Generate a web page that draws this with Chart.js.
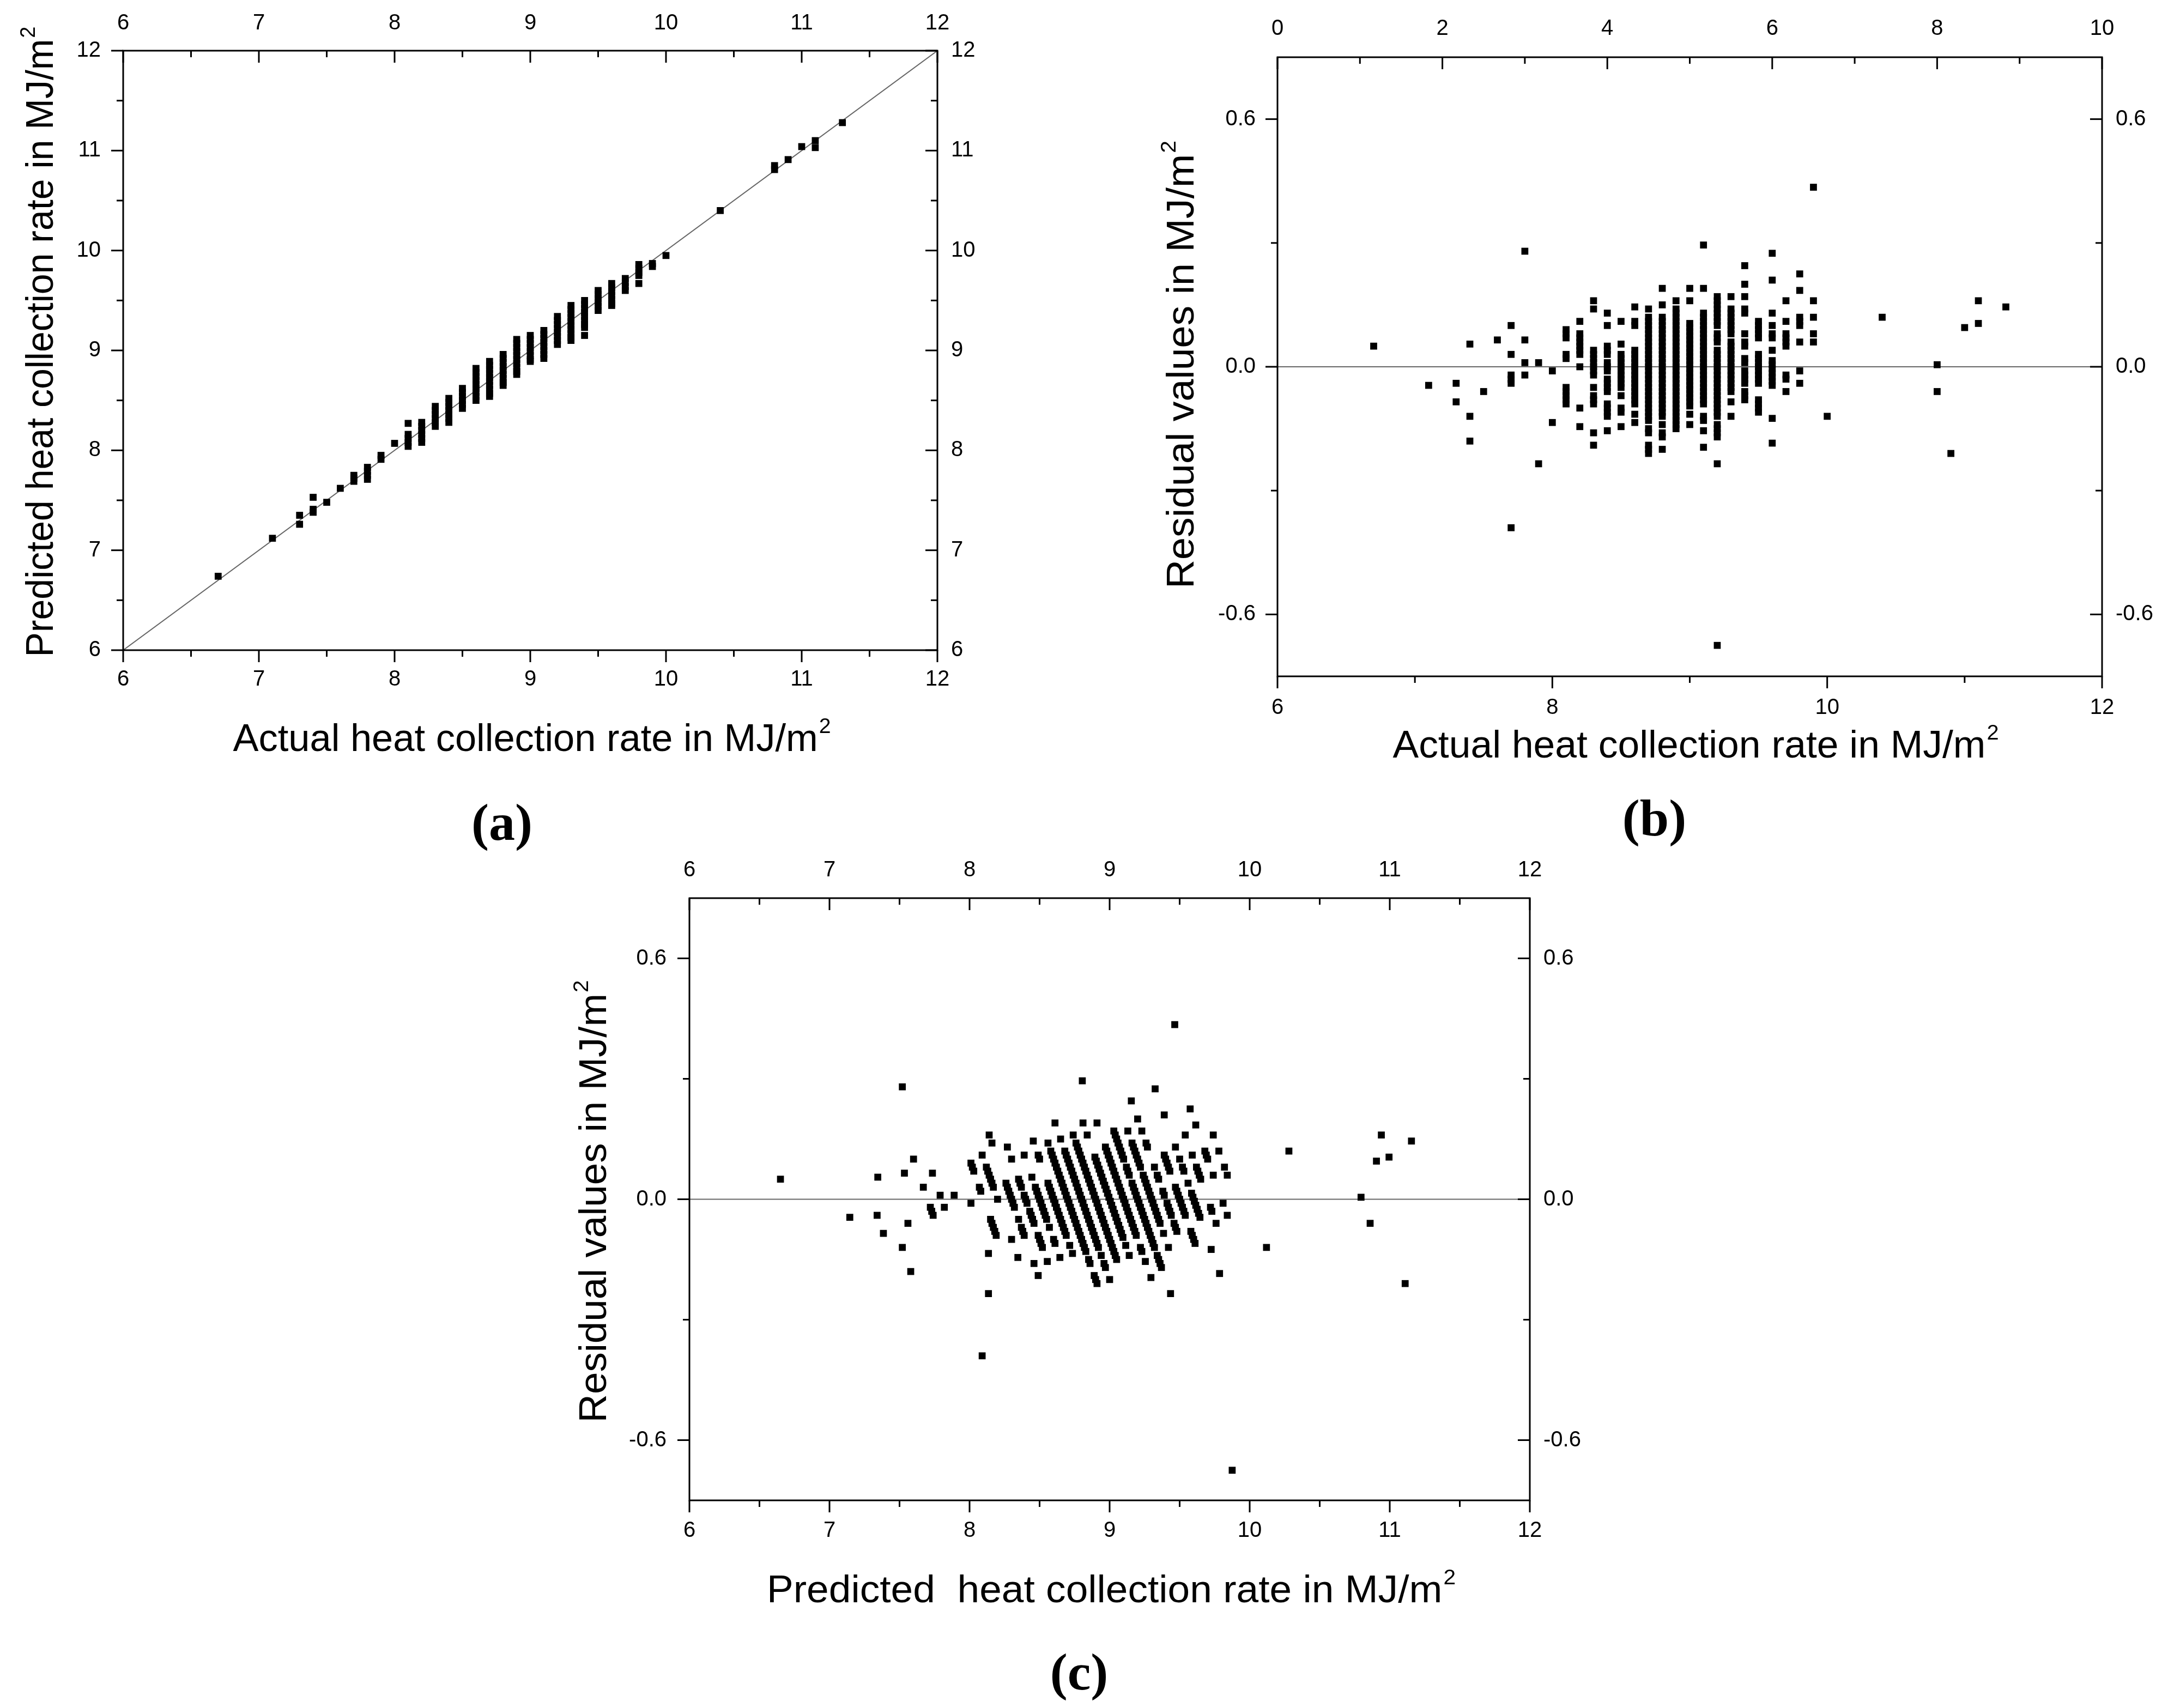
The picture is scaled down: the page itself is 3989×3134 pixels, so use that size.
<!DOCTYPE html>
<html>
<head>
<meta charset="utf-8">
<script src="https://cdn.jsdelivr.net/npm/chart.js@4.4.1/dist/chart.umd.min.js"></script>
<style>
  html, body { margin: 0; padding: 0; background: #fff; }
  body { width: 3989px; height: 3134px; position: relative; overflow: hidden; }
  canvas { position: absolute; }
</style>
</head>
<body>
<canvas id="chartA" width="1950" height="1570" style="left:0;top:0"></canvas>
<canvas id="chartB" width="1989" height="1570" style="left:2000px;top:0"></canvas>
<canvas id="chartC" width="2200" height="1562" style="left:850px;top:1572px"></canvas>
<script>
// ---- data ----
// (a) predicted vs actual, grouped by actual value
var actualA = [6.7, 7.1, 7.3, 7.4, 7.5, 7.6, 7.7, 7.8, 7.9, 8.0, 8.1, 8.2, 8.3, 8.4, 8.5, 8.6, 8.7, 8.8, 8.9, 9.0,
  9.1, 9.2, 9.3, 9.4, 9.5, 9.6, 9.7, 9.8, 9.9, 10.0, 10.4, 10.8, 10.9, 11.0, 11.1, 11.3];
var predictedA = [
  [6.74], [7.12], [7.35, 7.26], [7.53, 7.41, 7.38], [7.48], [7.62],
  [7.75, 7.72, 7.69], [7.83, 7.79, 7.75, 7.71], [7.95, 7.91], [8.07],
  [8.27, 8.16, 8.12, 8.08, 8.04],
  [8.28, 8.24, 8.20, 8.16, 8.12, 8.08],
  [8.44, 8.40, 8.36, 8.32, 8.28, 8.24],
  [8.52, 8.48, 8.44, 8.40, 8.36, 8.32, 8.28],
  [8.62, 8.58, 8.54, 8.50, 8.46, 8.42],
  [8.82, 8.78, 8.74, 8.70, 8.66, 8.62, 8.58, 8.54, 8.50],
  [8.89, 8.85, 8.81, 8.77, 8.73, 8.69, 8.65, 8.61, 8.57, 8.54],
  [8.96, 8.92, 8.88, 8.84, 8.80, 8.76, 8.72, 8.68, 8.65],
  [9.11, 9.07, 9.03, 8.99, 8.95, 8.91, 8.87, 8.83, 8.79, 8.76],
  [9.15, 9.11, 9.07, 9.03, 8.99, 8.95, 8.91, 8.89],
  [9.20, 9.16, 9.12, 9.08, 9.04, 9.00, 8.96, 8.92],
  [9.34, 9.30, 9.26, 9.22, 9.18, 9.14, 9.10, 9.06],
  [9.45, 9.41, 9.37, 9.33, 9.29, 9.25, 9.21, 9.17, 9.13, 9.10],
  [9.50, 9.46, 9.42, 9.38, 9.34, 9.30, 9.26, 9.23, 9.15],
  [9.60, 9.56, 9.52, 9.48, 9.44, 9.40],
  [9.67, 9.63, 9.59, 9.55, 9.51, 9.47, 9.45],
  [9.72, 9.68, 9.64, 9.60],
  [9.86, 9.82, 9.78, 9.75, 9.67],
  [9.87, 9.84], [9.95], [10.40], [10.85, 10.81], [10.91], [11.04], [11.10, 11.03], [11.28]
];

// (b)/(c) residual = actual - predicted, grouped by actual value
var actualCols = [6.7, 7.1, 7.3, 7.4, 7.5, 7.6, 7.7, 7.8, 7.9, 8.0, 8.1, 8.2, 8.3, 8.4, 8.5, 8.6, 8.7, 8.8, 8.9, 9.0,
  9.1, 9.2, 9.3, 9.4, 9.5, 9.6, 9.7, 9.8, 9.9, 10.0, 10.4, 10.8, 10.9, 11.0, 11.1, 11.3];
var residualCols = [
  [0.05], [-0.045], [-0.04, -0.085], [0.055, -0.12, -0.18], [-0.06], [0.065],
  [0.10, 0.03, -0.02, -0.03, -0.04, -0.39],
  [0.28, 0.065, 0.01, -0.02],
  [0.01, -0.235],
  [-0.01, -0.135],
  [0.09, 0.08, 0.07, 0.03, 0.02, -0.05, -0.06, -0.07, -0.08, -0.09],
  [0.11, 0.08, 0.07, 0.06, 0.05, 0.04, 0.03, 0.0, -0.10, -0.145],
  [0.16, 0.14, 0.04, 0.03, 0.02, 0.01, 0.0, -0.01, -0.02, -0.05, -0.07, -0.08, -0.09, -0.16, -0.19],
  [0.13, 0.10, 0.05, 0.04, 0.03, 0.01, 0.0, -0.01, -0.03, -0.04, -0.05, -0.06, -0.09, -0.10, -0.11, -0.12, -0.155],
  [0.11, 0.055, 0.03, 0.02, 0.01, 0.0, -0.01, -0.02, -0.03, -0.04, -0.05, -0.07, -0.10, -0.11, -0.145],
  [0.145, 0.11, 0.10, 0.04, 0.03, 0.02, 0.01, 0.0, -0.01, -0.02, -0.03, -0.04, -0.05, -0.06, -0.07, -0.08, -0.09, -0.115, -0.135],
  [0.14, 0.12, 0.11, 0.10, 0.09, 0.08, 0.07, 0.06, 0.05, 0.04, 0.03, 0.02, 0.01, 0.0, -0.01, -0.02, -0.03, -0.04,
    -0.05, -0.06, -0.07, -0.08, -0.09, -0.10, -0.11, -0.12, -0.13, -0.15, -0.16, -0.19, -0.20, -0.21],
  [0.19, 0.15, 0.12, 0.11, 0.10, 0.09, 0.08, 0.07, 0.06, 0.05, 0.04, 0.03, 0.02, 0.01, 0.0, -0.01, -0.02, -0.03,
    -0.04, -0.05, -0.06, -0.07, -0.08, -0.09, -0.10, -0.11, -0.12, -0.14, -0.16, -0.17, -0.20],
  [0.16, 0.14, 0.13, 0.12, 0.11, 0.10, 0.09, 0.08, 0.07, 0.06, 0.05, 0.04, 0.03, 0.02, 0.01, 0.0, -0.01, -0.02,
    -0.03, -0.04, -0.05, -0.06, -0.07, -0.08, -0.09, -0.10, -0.11, -0.12, -0.13, -0.14, -0.15],
  [0.19, 0.16, 0.105, 0.095, 0.085, 0.075, 0.065, 0.055, 0.045, 0.035, 0.025, 0.015, 0.005, -0.005, -0.015,
    -0.025, -0.035, -0.045, -0.055, -0.065, -0.075, -0.085, -0.095, -0.115, -0.14],
  [0.295, 0.19, 0.13, 0.12, 0.11, 0.10, 0.09, 0.08, 0.07, 0.06, 0.05, 0.04, 0.03, 0.02, 0.01, 0.0, -0.01, -0.02,
    -0.03, -0.04, -0.05, -0.06, -0.07, -0.08, -0.09, -0.12, -0.13, -0.155, -0.195],
  [0.17, 0.16, 0.15, 0.14, 0.13, 0.12, 0.11, 0.10, 0.08, 0.07, 0.06, 0.04, 0.03, 0.02, 0.01, 0.0, -0.01, -0.02,
    -0.03, -0.04, -0.05, -0.06, -0.07, -0.08, -0.09, -0.10, -0.11, -0.12, -0.14, -0.15, -0.16, -0.17, -0.235, -0.675],
  [0.17, 0.14, 0.13, 0.12, 0.11, 0.10, 0.09, 0.08, 0.06, 0.05, 0.04, 0.03, 0.02, 0.01, 0.0, -0.01, -0.02, -0.03,
    -0.04, -0.05, -0.06, -0.085, -0.12],
  [0.245, 0.20, 0.17, 0.14, 0.13, 0.08, 0.06, 0.05, 0.02, 0.01, -0.01, -0.02, -0.03, -0.04, -0.06, -0.07, -0.08],
  [0.11, 0.10, 0.09, 0.08, 0.07, 0.03, 0.02, 0.01, 0.0, -0.01, -0.02, -0.03, -0.04, -0.08, -0.09, -0.10, -0.11],
  [0.275, 0.21, 0.13, 0.10, 0.08, 0.07, 0.04, 0.015, 0.005, -0.005, -0.015, -0.025, -0.035, -0.045, -0.125, -0.185],
  [0.16, 0.11, 0.08, 0.07, 0.06, 0.05, -0.02, -0.03, -0.06],
  [0.225, 0.185, 0.12, 0.11, 0.10, 0.06, -0.01, -0.04],
  [0.435, 0.16, 0.12, 0.08, 0.06],
  [-0.12], [0.12], [0.005, -0.06], [-0.21], [0.095], [0.16, 0.105], [0.145]
];

// tick values
var ticks6to12 = [6, 7, 8, 9, 10, 11, 12];
var minor6to12 = [6.5, 7.5, 8.5, 9.5, 10.5, 11.5];
var ticksBBottom = [6, 8, 10, 12];
var minorBBottom = [7, 9, 11];
var ticksBTop = [0, 2, 4, 6, 8, 10];
var minorBTop = [1, 3, 5, 7, 9];
var ticksResid = [-0.6, 0, 0.6];
var minorResid = [-0.3, 0.3];

// ---- points ----
var pointsA = [];
actualA.forEach(function (a, i) { predictedA[i].forEach(function (p) { pointsA.push({ x: a, y: p }); }); });
var pointsB = [];
var pointsC = [];
actualCols.forEach(function (a, i) {
  residualCols[i].forEach(function (r) {
    pointsB.push({ x: a, y: r });
    pointsC.push({ x: +(a - r).toFixed(3), y: r });   // predicted = actual - residual
  });
});

// frame + Origin style ticks (bottom/left outward, top/right inward)
var frameTicks = {
  id: 'frameTicks',
  afterDatasetsDraw: function (chart, args, opts) {
    var ctx = chart.ctx, a = chart.chartArea;
    ctx.save();
    ctx.strokeStyle = '#000';
    ctx.lineWidth = 3;
    ctx.strokeRect(a.left, a.top, a.width, a.height);
    Object.values(chart.scales).forEach(function (s) {
      var marks = s.ticks.map(function (t) { return [t.value, 22]; })
        .concat((opts.minor[s.id] || []).map(function (v) { return [v, 12]; }));
      marks.forEach(function (m) {
        var p = s.getPixelForValue(m[0]);
        ctx.beginPath();
        if (s.isHorizontal()) {
          var y0 = s.position === 'bottom' ? a.bottom : a.top;
          ctx.moveTo(p, y0); ctx.lineTo(p, y0 + m[1]);
        } else {
          var x0 = s.position === 'left' ? a.left : a.right;
          ctx.moveTo(x0, p); ctx.lineTo(x0 - m[1], p);
        }
        ctx.stroke();
      });
    });
    ctx.restore();
  }
};

function drawSupTitle(ctx, text, x, y, rot, len) {
  var size = 70;
  ctx.save();
  ctx.translate(x, y);
  ctx.rotate(rot);
  ctx.font = size + 'px "Liberation Sans"';
  var w1 = ctx.measureText(text).width;
  ctx.font = Math.round(size * 0.56) + 'px "Liberation Sans"';
  var w2 = ctx.measureText('2').width;
  ctx.scale(len / (w1 + w2), 1);
  var x0 = -(w1 + w2) / 2;
  ctx.fillStyle = '#000';
  ctx.textAlign = 'left';
  ctx.textBaseline = 'alphabetic';
  ctx.font = size + 'px "Liberation Sans"';
  ctx.fillText(text, x0, 0);
  ctx.font = Math.round(size * 0.56) + 'px "Liberation Sans"';
  ctx.fillText('2', x0 + w1 + 2, -size * 0.47);
  ctx.restore();
}

var panelText = {
  id: 'panelText',
  afterDraw: function (chart, args, o) {
    var ctx = chart.ctx, a = chart.chartArea;
    var cx = (a.left + a.right) / 2, cy = (a.top + a.bottom) / 2;
    drawSupTitle(ctx, o.xTitle, cx + o.xDx, a.bottom + o.xDy, 0, o.xLen);
    drawSupTitle(ctx, o.yTitle, a.left - o.yDx, cy + o.yDy, -Math.PI / 2, o.yLen);
    ctx.save();
    ctx.fillStyle = '#000';
    ctx.font = 'bold 96px "Liberation Serif"';
    ctx.textAlign = 'center';
    ctx.textBaseline = 'middle';
    ctx.fillText(o.tag, cx + o.tagDx, a.bottom + o.tagDy);
    ctx.restore();
  }
};

function axis(pos, min, max, values, size, pad, fmt) {
  var horizontal = pos === 'top' || pos === 'bottom';
  return {
    type: 'linear', position: pos, axis: horizontal ? 'x' : 'y', min: min, max: max,
    afterBuildTicks: function (s) { s.ticks = values.map(function (v) { return { value: v }; }); },
    afterFit: function (s) { if (horizontal) s.height = size; else s.width = size; },
    grid: { display: false, drawTicks: false },
    border: { display: false },
    ticks: {
      autoSkip: false, maxRotation: 0, padding: pad, color: '#000',
      font: { family: 'Liberation Sans', size: 40 },
      callback: fmt
    }
  };
}
var intFmt = function (v) { return String(v); };
var decFmt = function (v) { return v.toFixed(1); };

function scatterSet(points) {
  return { data: points, pointStyle: 'rect', pointRadius: 9, pointHoverRadius: 9,
    backgroundColor: '#000', borderWidth: 0, showLine: false, order: 1 };
}
function refLine(points) {
  return { data: points, showLine: true, pointRadius: 0, borderColor: '#666666',
    borderWidth: 2, fill: false, order: 2 };
}

function baseOptions(scales, minor, text) {
  return {
    responsive: false, animation: false, devicePixelRatio: 1, events: [],
    layout: { padding: 0 },
    plugins: { legend: { display: false }, tooltip: { enabled: false },
      frameTicks: { minor: minor }, panelText: text },
    scales: scales
  };
}

// (a)
new Chart(document.getElementById('chartA'), {
  type: 'scatter',
  data: { datasets: [scatterSet(pointsA), refLine([{ x: 6, y: 6 }, { x: 12, y: 12 }])] },
  options: baseOptions({
    x: axis('bottom', 6, 12, ticks6to12, 377, 30, intFmt),
    x2: axis('top', 6, 12, ticks6to12, 93, 26, intFmt),
    y: axis('left', 6, 12, ticks6to12, 226, 41, intFmt),
    y2: axis('right', 6, 12, ticks6to12, 230, 25, intFmt)
  }, { x: minor6to12, x2: minor6to12, y: minor6to12, y2: minor6to12 }, {
    xTitle: 'Actual heat collection rate in MJ/m', xDx: 2, xDy: 185, xLen: 1095,
    yTitle: 'Predicted heat collection rate in MJ/m', yDx: 129, yDy: -15, yLen: 1155,
    tag: '(a)', tagDx: -52, tagDy: 323
  }),
  plugins: [frameTicks, panelText]
});

// (b)
new Chart(document.getElementById('chartB'), {
  type: 'scatter',
  data: { datasets: [scatterSet(pointsB), refLine([{ x: 6, y: 0 }, { x: 12, y: 0 }])] },
  options: baseOptions({
    x: axis('bottom', 6, 12, ticksBBottom, 329, 34, intFmt),
    x2: axis('top', 0, 10, ticksBTop, 105, 28, intFmt),
    y: axis('left', -0.75, 0.75, ticksResid, 344, 40, decFmt),
    y2: axis('right', -0.75, 0.75, ticksResid, 132, 25, decFmt)
  }, { x: minorBBottom, x2: minorBTop, y: minorResid, y2: minorResid }, {
    xTitle: 'Actual heat collection rate in MJ/m', xDx: 10, xDy: 149, xLen: 1110,
    yTitle: 'Residual values in MJ/m', yDx: 154, yDy: -3, yLen: 820,
    tag: '(b)', tagDx: -65, tagDy: 267
  }),
  plugins: [frameTicks, panelText]
});

// (c)
new Chart(document.getElementById('chartC'), {
  type: 'scatter',
  data: { datasets: [scatterSet(pointsC), refLine([{ x: 6, y: 0 }, { x: 12, y: 0 }])] },
  options: baseOptions({
    x: axis('bottom', 6, 12, ticks6to12, 381, 32, intFmt),
    x2: axis('top', 6, 12, ticks6to12, 76, 27, intFmt),
    y: axis('left', -0.75, 0.75, ticksResid, 415, 42, decFmt),
    y2: axis('right', -0.75, 0.75, ticksResid, 243, 25, decFmt)
  }, { x: minor6to12, x2: minor6to12, y: minorResid, y2: minorResid }, {
    xTitle: 'Predicted  heat collection rate in MJ/m', xDx: 2, xDy: 187, xLen: 1262,
    yTitle: 'Residual values in MJ/m', yDx: 153, yDy: 5, yLen: 810,
    tag: '(c)', tagDx: -56, tagDy: 322
  }),
  plugins: [frameTicks, panelText]
});
</script>
</body>
</html>
